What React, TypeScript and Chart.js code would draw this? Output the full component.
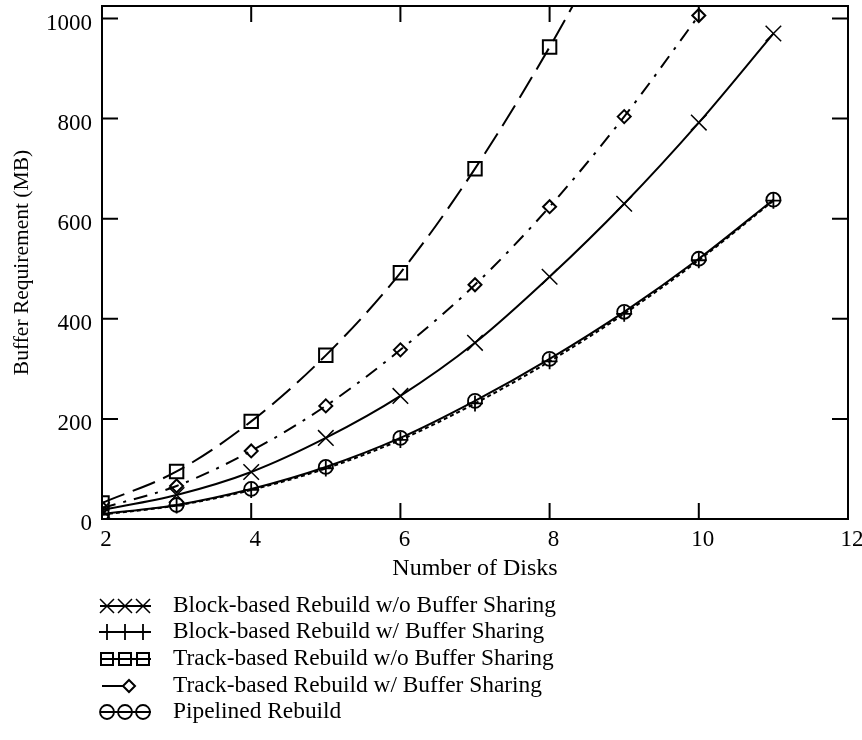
import React, { useEffect, useRef } from 'react';
import { Chart, registerables } from 'chart.js';

Chart.register(...registerables);

const disks = [2, 3, 4, 5, 6, 7, 8, 9, 10, 11];
const blockNoShare = [18, 48, 94, 162, 246, 352, 484, 630, 792, 970];
const blockShare = [9, 27, 58, 101, 158, 231, 315, 410, 517, 636];
const trackNoShare = [32, 95, 195, 327, 492, 700, 943, 1215, null, null];
const trackShare = [22, 66, 136, 226, 338, 468, 624, 804, 1006, null];
const pipelined = [10, 28, 60, 104, 162, 236, 320, 414, 520, 638];

const xTicks = [2, 4, 6, 8, 10, 12];
const yTicks = [0, 200, 400, 600, 800, 1000];

const seriesNames = [
  'Block-based Rebuild w/o Buffer Sharing',
  'Block-based Rebuild w/ Buffer Sharing',
  'Track-based Rebuild w/o Buffer Sharing',
  'Track-based Rebuild w/ Buffer Sharing',
  'Pipelined Rebuild',
];

const FONT = '"Liberation Serif", "Times New Roman", serif';
const INK = '#000';

function pts(arr: (number | null)[]) {
  return disks
    .map((d, i) => ({ x: d, y: arr[i] }))
    .filter((p) => p.y !== null) as { x: number; y: number }[];
}

function drawMarker(ctx: CanvasRenderingContext2D, kind: string, x: number, y: number) {
  ctx.save();
  ctx.strokeStyle = INK;
  ctx.beginPath();
  if (kind === 'x') {
    ctx.lineWidth = 1.5;
    const s = 7;
    ctx.moveTo(x - s, y - s); ctx.lineTo(x + s, y + s);
    ctx.moveTo(x - s, y + s); ctx.lineTo(x + s, y - s);
  } else if (kind === 'plus') {
    ctx.lineWidth = 1.8;
    const s = 8;
    ctx.moveTo(x - s, y); ctx.lineTo(x + s, y);
    ctx.moveTo(x, y - s); ctx.lineTo(x, y + s);
  } else if (kind === 'square') {
    ctx.lineWidth = 2;
    const s = 6;
    ctx.rect(x - s, y - s, 2 * s, 2 * s);
  } else if (kind === 'diamond') {
    ctx.lineWidth = 2;
    const s = 6;
    ctx.moveTo(x, y - s); ctx.lineTo(x + s, y); ctx.lineTo(x, y + s); ctx.lineTo(x - s, y); ctx.closePath();
  } else if (kind === 'circle') {
    ctx.lineWidth = 1.8;
    ctx.arc(x, y, 7, 0, Math.PI * 2);
  }
  ctx.stroke();
  ctx.restore();
}

export default function App() {
  const ref = useRef<HTMLCanvasElement>(null);

  useEffect(() => {
    document.body.style.margin = '0';
    const canvas = ref.current;
    if (!canvas) return;

    const framePlugin = {
      id: 'framePlugin',
      afterDraw(chart: any) {
        const { ctx, chartArea } = chart;
        const { left, right, top, bottom } = chartArea;
        const xs = chart.scales.x;
        const ys = chart.scales.y;
        ctx.save();
        ctx.strokeStyle = INK;
        ctx.lineWidth = 2;
        ctx.strokeRect(left, top, right - left, bottom - top);
        const tl = 16;
        ctx.beginPath();
        xTicks.forEach((v) => {
          const px = xs.getPixelForValue(v);
          ctx.moveTo(px, bottom); ctx.lineTo(px, bottom - tl);
          ctx.moveTo(px, top); ctx.lineTo(px, top + tl);
        });
        yTicks.forEach((v) => {
          const py = ys.getPixelForValue(v);
          ctx.moveTo(left, py); ctx.lineTo(left + tl, py);
          ctx.moveTo(right, py); ctx.lineTo(right - tl, py);
        });
        ctx.stroke();

        // legend
        const rows = [606, 632, 659, 686, 712];
        const kinds = ['x', 'plus', 'square', 'diamond', 'circle'];
        ctx.font = `23.4px ${FONT}`;
        ctx.fillStyle = INK;
        ctx.textBaseline = 'middle';
        ctx.textAlign = 'left';
        rows.forEach((ry, i) => {
          const k = kinds[i];
          ctx.beginPath();
          ctx.lineWidth = 2;
          if (k === 'diamond') {
            ctx.moveTo(102, ry); ctx.lineTo(123, ry);
            ctx.stroke();
            drawMarker(ctx, k, 129, ry);
          } else {
            ctx.moveTo(100, ry); ctx.lineTo(151, ry);
            ctx.stroke();
            [107, 125, 143].forEach((mx) => drawMarker(ctx, k, mx, ry));
          }
          ctx.fillText(seriesNames[i], 173, ry);
        });
        ctx.restore();
      },
    };

    const common = {
      borderColor: INK,
      pointBorderColor: INK,
      pointBackgroundColor: 'rgba(0,0,0,0)',
      fill: false,
      cubicInterpolationMode: 'monotone' as const,
      clip: 0,
    };

    const chart = new Chart(canvas, {
      type: 'line',
      data: {
        datasets: [
          {
            ...common,
            label: seriesNames[1],
            data: pts(blockShare),
            borderWidth: 2,
            borderDash: [4, 3],
            pointStyle: 'cross',
            pointRadius: 8,
            pointBorderWidth: 1.8,
          },
          {
            ...common,
            label: seriesNames[4],
            data: pts(pipelined),
            borderWidth: 2,
            pointStyle: 'circle',
            pointRadius: 7,
            pointBorderWidth: 1.8,
          },
          {
            ...common,
            label: seriesNames[0],
            data: pts(blockNoShare),
            borderWidth: 2,
            pointStyle: 'crossRot',
            pointRadius: 11,
            pointBorderWidth: 1.5,
          },
          {
            ...common,
            label: seriesNames[3],
            data: pts(trackShare),
            borderWidth: 2,
            borderDash: [14, 8, 3, 8],
            pointStyle: 'rectRot',
            pointRadius: 6.5,
            pointBorderWidth: 2,
          },
          {
            ...common,
            label: seriesNames[2],
            data: pts(trackNoShare),
            borderWidth: 2,
            borderDash: [24, 9],
            pointStyle: 'rect',
            pointRadius: 9.5,
            pointBorderWidth: 2,
          },
        ] as any,
      },
      options: {
        animation: false,
        responsive: false,
        layout: { autoPadding: false, padding: { left: 0, right: 14, top: 6, bottom: 155 } },
        plugins: {
          legend: { display: false },
          tooltip: { enabled: false },
        },
        scales: {
          x: {
            type: 'linear',
            min: 2,
            max: 12,
            grid: { display: false, drawTicks: false },
            border: { display: false },
            afterBuildTicks: (s: any) => {
              s.ticks = xTicks.map((v) => ({ value: v }));
            },
            afterFit: (s: any) => {
              s.height = 66;
              s.paddingLeft = 0;
              s.paddingRight = 0;
              s.paddingTop = 0;
              s.paddingBottom = 0;
            },
            ticks: {
              color: INK,
              font: { family: FONT, size: 23 },
              padding: 7,
              labelOffset: 4,
              maxRotation: 0,
              autoSkip: false,
              callback: (v: any) => String(v),
            },
            title: {
              display: true,
              text: 'Number of Disks',
              color: INK,
              font: { family: FONT, size: 24 },
              padding: { top: 0, bottom: 2 },
            },
          },
          y: {
            type: 'linear',
            min: 0,
            max: 1025,
            grid: { display: false, drawTicks: false },
            border: { display: false },
            afterBuildTicks: (s: any) => {
              s.ticks = yTicks.map((v) => ({ value: v }));
            },
            afterFit: (s: any) => {
              s.width = 102;
              s.paddingLeft = 0;
              s.paddingRight = 0;
              s.paddingTop = 0;
              s.paddingBottom = 0;
            },
            ticks: {
              color: INK,
              font: { family: FONT, size: 23 },
              padding: 10,
              labelOffset: 5,
              autoSkip: false,
              callback: (v: any) => String(v),
            },
            title: {
              display: true,
              text: 'Buffer Requirement (MB)',
              color: INK,
              font: { family: FONT, size: 21.5 },
              padding: { top: 9, bottom: 0 },
            },
          },
        },
      },
      plugins: [framePlugin],
    });

    return () => chart.destroy();
  }, []);

  return (
    <div style={{ width: 862, height: 740 }}>
      <canvas ref={ref} width={862} height={740} style={{ display: 'block' }} />
    </div>
  );
}
